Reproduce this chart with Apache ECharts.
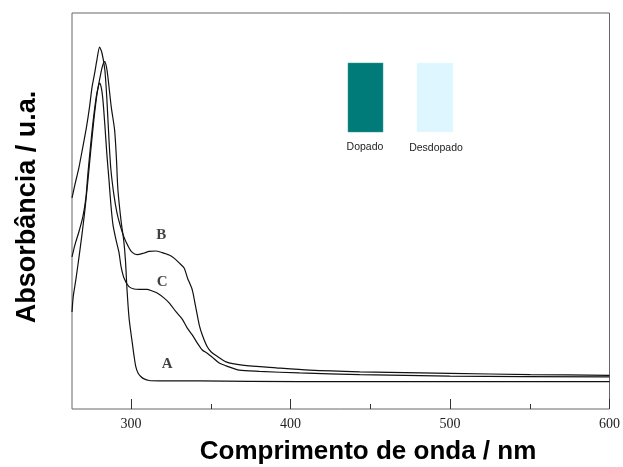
<!DOCTYPE html>
<html>
<head>
<meta charset="utf-8">
<script src="https://cdn.jsdelivr.net/npm/echarts@6/dist/echarts.min.js"></script>
<style>
  html, body { margin: 0; padding: 0; background: #fff; }
  #chart { width: 623px; height: 467px; }
</style>
</head>
<body>
<div id="chart"></div>
<script>
// UV-Vis spectra: [wavelength (nm), absorbance (a.u.)]
const curveA = [
  [263, 0.245], [263.8, 0.285], [265.4, 0.326], [267.3, 0.381], [269.2, 0.439],
  [271.1, 0.503], [273.0, 0.578], [274.8, 0.654], [276.7, 0.730], [278.6, 0.793],
  [280.5, 0.836], [282.1, 0.866], [283.5, 0.877], [284.6, 0.864], [285.5, 0.839],
  [287.6, 0.763], [289.7, 0.705], [290.8, 0.637], [291.8, 0.553], [293.9, 0.470],
  [295.4, 0.427], [296.5, 0.376], [297.5, 0.301], [298.7, 0.233], [299.7, 0.199],
  [300.8, 0.167], [301.9, 0.134], [303.0, 0.107], [304.4, 0.091], [306.1, 0.082],
  [308.2, 0.076], [311.3, 0.072], [317.6, 0.071], [342.8, 0.071], [405.7, 0.069],
  [500, 0.069], [600, 0.069]
];
const curveB = [
  [263, 0.533], [264.8, 0.566], [267.3, 0.609], [269.8, 0.662], [272.0, 0.710],
  [274.0, 0.763], [275.5, 0.811], [277.2, 0.848], [278.6, 0.881], [280.3, 0.914],
  [281.8, 0.899], [283.6, 0.856], [284.9, 0.780], [286.2, 0.679], [287.4, 0.604],
  [289.3, 0.540], [291.2, 0.495], [293.1, 0.465], [295.6, 0.434], [298.1, 0.412],
  [300.6, 0.396], [303.8, 0.390], [308.2, 0.394], [311.3, 0.398], [315.5, 0.399],
  [319.5, 0.395], [323.9, 0.389], [327.0, 0.381], [330.2, 0.369], [333.3, 0.356],
  [335.4, 0.331], [338.4, 0.301], [340.3, 0.263], [342.8, 0.212], [344.7, 0.187],
  [347.8, 0.157], [350.3, 0.144], [353.3, 0.135], [359.6, 0.119], [369.8, 0.111],
  [391.0, 0.104], [412.0, 0.098], [443.4, 0.094], [500, 0.090], [550.3, 0.087],
  [600, 0.085]
];
const curveC = [
  [263, 0.384], [264.8, 0.414], [267.3, 0.447], [269.8, 0.485], [271.7, 0.533],
  [273.0, 0.596], [274.5, 0.659], [276.1, 0.722], [278.2, 0.788], [279.6, 0.816],
  [280.3, 0.823], [281.4, 0.811], [282.4, 0.780], [283.6, 0.717], [284.9, 0.641],
  [286.2, 0.578], [287.4, 0.515], [288.7, 0.465], [290.6, 0.427], [292.5, 0.394],
  [293.7, 0.361], [295.6, 0.331], [298.7, 0.309], [301.9, 0.303], [305.0, 0.302],
  [310.1, 0.302], [313.2, 0.298], [316.4, 0.293], [320.8, 0.280], [323.9, 0.268],
  [328.3, 0.245], [332.1, 0.227], [335.2, 0.205], [338.4, 0.187], [341.5, 0.167],
  [344.7, 0.149], [347.8, 0.141], [350.9, 0.131], [355.3, 0.116], [359.7, 0.109],
  [367.9, 0.098], [380.5, 0.095], [405.7, 0.091], [443.4, 0.087], [500, 0.083],
  [600, 0.081]
];

// curve letters and where they sit
const curveLabels = ['A', 'B', 'C'];
const curveLabelPos = [[322.6, 0.114], [318.9, 0.439], [319.5, 0.321]];

// axis range and tick marks
const xMin = 263, xMax = 600;
const majorTicks = [300, 400, 500, 600];
const minorTicks = [350, 450, 550];

const chart = echarts.init(document.getElementById('chart'), null, { renderer: 'canvas' });

const lineStyle = { color: '#111', width: 1.2 };
const mkLine = (name, data) => ({
  name, type: 'line', data, showSymbol: false, symbol: 'none',
  smooth: 0.25, lineStyle, xAxisIndex: 0, yAxisIndex: 0, z: 3
});

chart.setOption({
  animation: false,
  backgroundColor: '#ffffff',
  grid: {
    left: 72, right: 13, top: 13, bottom: 58,
    show: true, borderColor: '#666', borderWidth: 1, backgroundColor: 'transparent'
  },
  xAxis: [
    {
      type: 'value', min: xMin, max: xMax,
      axisLine: { show: false },
      splitLine: { show: false },
      axisTick: { show: true, inside: true, length: 10, customValues: majorTicks,
                  lineStyle: { color: '#333', width: 1 } },
      axisLabel: { show: true, customValues: majorTicks, margin: 8,
                   fontFamily: 'Liberation Serif', fontSize: 14, color: '#222' }
    },
    {
      type: 'value', min: xMin, max: xMax, position: 'bottom',
      axisLine: { show: false },
      splitLine: { show: false },
      axisTick: { show: true, inside: true, length: 5, customValues: minorTicks,
                  lineStyle: { color: '#333', width: 1 } },
      axisLabel: { show: false }
    }
  ],
  yAxis: {
    type: 'value', min: 0, max: 1,
    axisLine: { show: false }, axisTick: { show: false },
    axisLabel: { show: false }, splitLine: { show: false }
  },
  series: [
    mkLine('A', curveA),
    mkLine('B', curveB),
    mkLine('C', curveC),
    {
      name: 'labels', type: 'scatter', symbolSize: 0,
      data: curveLabelPos.map((p, i) => ({ value: p, name: curveLabels[i] })),
      label: {
        show: true, position: 'inside', formatter: p => p.name,
        fontFamily: 'Liberation Serif', fontWeight: 'bold', fontSize: 15, color: '#111'
      },
      z: 4
    }
  ],
  graphic: [
    { type: 'rect', shape: { x: 348, y: 63, width: 35, height: 69 },
      style: { fill: '#017b79', stroke: '#3a9a98', lineWidth: 0.5 } },
    { type: 'rect', shape: { x: 417, y: 63, width: 36, height: 69 },
      style: { fill: '#def6ff', stroke: '#e6f8ff', lineWidth: 0.5 } },
    { type: 'text', x: 365, y: 147,
      style: { text: 'Dopado', fill: '#222', font: '10.5px "Liberation Sans"', align: 'center', verticalAlign: 'middle' } },
    { type: 'text', x: 436, y: 148,
      style: { text: 'Desdopado', fill: '#222', font: '10.5px "Liberation Sans"', align: 'center', verticalAlign: 'middle' } },
    { type: 'text', x: 368, y: 452,
      style: { text: 'Comprimento de onda / nm', fill: '#000',
               font: 'bold 26px "Liberation Sans"', align: 'center', verticalAlign: 'middle' } },
    { type: 'text', x: 28, y: 207, rotation: Math.PI / 2,
      style: { text: 'Absorbância / u.a.', fill: '#000',
               font: 'bold 27px "Liberation Sans"', align: 'center', verticalAlign: 'middle' } }
  ]
});
</script>
</body>
</html>
